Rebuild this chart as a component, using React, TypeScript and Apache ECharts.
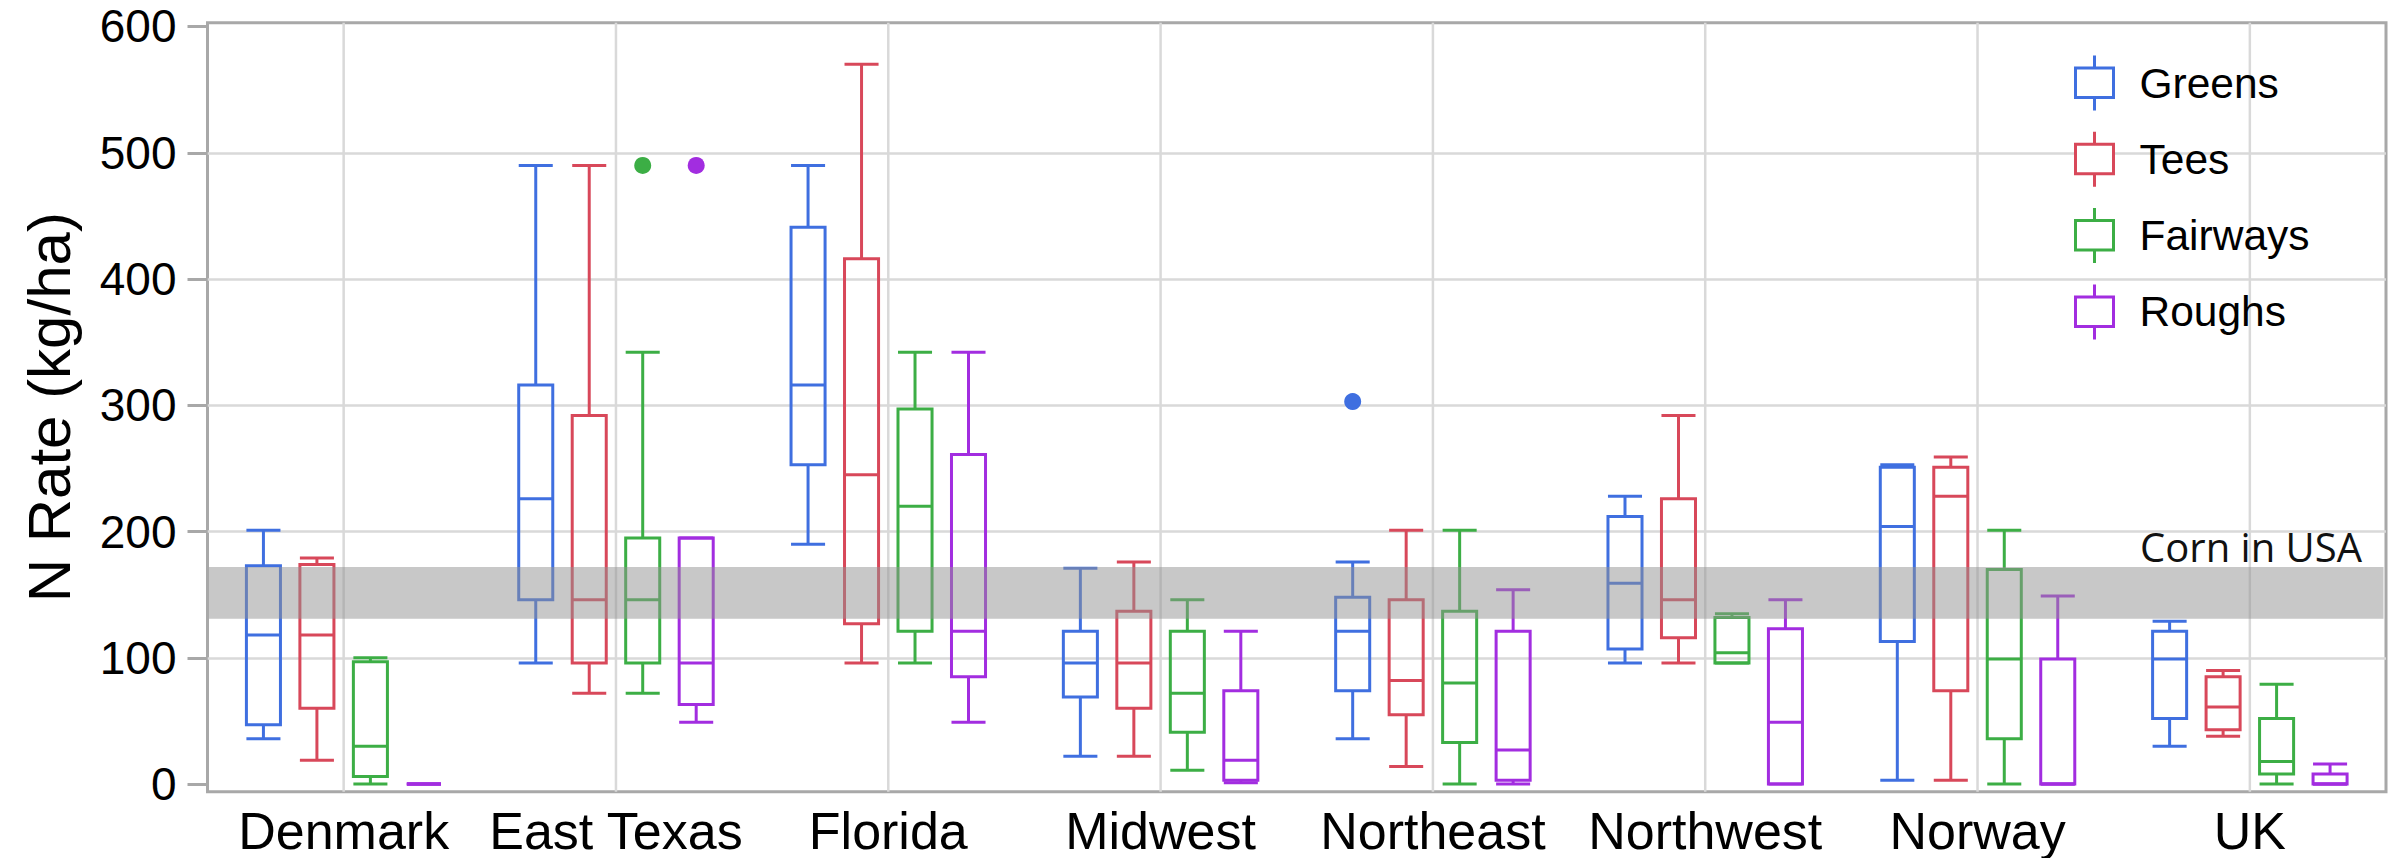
import React, { useEffect, useRef } from "react";
import * as echarts from "echarts";

// Regions on the category axis
const regions = ["Denmark", "East Texas", "Florida", "Midwest", "Northeast", "Northwest", "Norway", "UK"];

// Turf areas, one box per region for each
const groups = ["Greens", "Tees", "Fairways", "Roughs"];
const groupColors = ["#3f6fe0", "#d8485a", "#3cae45", "#a22de0"];

// Box statistics per region: [min, Q1, median, Q3, max] in kg N/ha
const greens = [
  [36, 47, 118, 173, 201],
  [96, 146, 226, 316, 490],
  [190, 253, 316, 441, 490],
  [22, 69, 96, 121, 171],
  [36, 74, 121, 148, 176],
  [96, 107, 159, 212, 228],
  [3, 113, 204, 251, 253],
  [30, 52, 99, 121, 129],
];
const tees = [
  [19, 60, 118, 174, 179],
  [72, 96, 146, 292, 490],
  [96, 127, 245, 416, 570],
  [22, 60, 96, 137, 176],
  [14, 55, 82, 146, 201],
  [96, 116, 146, 226, 292],
  [3, 74, 228, 251, 259],
  [38, 43, 61, 85, 90],
];
const fairways = [
  [0, 6, 30, 97, 100],
  [72, 96, 146, 195, 342],
  [96, 121, 220, 297, 342],
  [11, 41, 72, 121, 146],
  [0, 33, 80, 137, 201],
  [96, 96, 104, 132, 135],
  [0, 36, 99, 170, 201],
  [0, 8, 18, 52, 79],
];
const roughs = [
  [0, 0, 0, 0, 0],
  [49, 63, 96, 195, 195],
  [49, 85, 121, 261, 342],
  [1, 3, 19, 74, 121],
  [0, 3, 27, 121, 154],
  [0, 0, 49, 123, 146],
  [0, 0, 0, 99, 149],
  [0, 0, 0, 8, 16],
];

// Outliers: [region, value]
const greensOutliers: [string, number][] = [["Northeast", 303]];
const teesOutliers: [string, number][] = [];
const fairwaysOutliers: [string, number][] = [["East Texas", 490]];
const roughsOutliers: [string, number][] = [["East Texas", 490]];

// Typical corn N rate range in the USA (kg/ha)
const cornBand = [131, 172];
const cornLabel = "Corn in USA";

const yTicks = [0, 100, 200, 300, 400, 500, 600];

// Layout of the four boxes inside one category band (fractions of the band width)
const SLOT_STEP = 0.1964;
const BOX_FRAC = 0.125;
const BOX_LINE = 3;

const LEGEND_ICON = "path://M19,0L19,12.5M0,12.5L38,12.5L38,42L0,42ZM19,42L19,55";

const boxSets = [greens, tees, fairways, roughs];
const outlierSets = [greensOutliers, teesOutliers, fairwaysOutliers, roughsOutliers];

function slotX(api: any, cat: number, slot: number) {
  const band = api.size([1, 0])[0];
  return api.coord([cat, 0])[0] + (slot - 1.5) * band * SLOT_STEP;
}

function boxRenderer(slot: number, color: string) {
  return (params: any, api: any) => {
    const cat = api.value(0);
    const band = api.size([1, 0])[0];
    const cx = slotX(api, cat, slot);
    const half = (band * BOX_FRAC) / 2;
    const [yMin, yQ1, yMed, yQ3, yMax] = [1, 2, 3, 4, 5].map((d) => api.coord([cat, api.value(d)])[1]);
    const st = { stroke: color, lineWidth: BOX_LINE, fill: "none" };
    return {
      type: "group",
      children: [
        { type: "line", shape: { x1: cx, y1: yMax, x2: cx, y2: yQ3 }, style: st },
        { type: "line", shape: { x1: cx, y1: yQ1, x2: cx, y2: yMin }, style: st },
        { type: "line", shape: { x1: cx - half, y1: yMax, x2: cx + half, y2: yMax }, style: st },
        { type: "line", shape: { x1: cx - half, y1: yMin, x2: cx + half, y2: yMin }, style: st },
        { type: "rect", shape: { x: cx - half, y: yQ3, width: 2 * half, height: yQ1 - yQ3 }, style: st },
        { type: "line", shape: { x1: cx - half, y1: yMed, x2: cx + half, y2: yMed }, style: st },
      ],
    };
  };
}

function outlierRenderer(slot: number, color: string) {
  return (params: any, api: any) => {
    const cat = api.value(0);
    const cx = slotX(api, cat, slot);
    const cy = api.coord([cat, api.value(1)])[1];
    return { type: "circle", shape: { cx, cy, r: 8.5 }, style: { fill: color } };
  };
}

export default function App() {
  const ref = useRef<HTMLDivElement>(null);

  useEffect(() => {
    if (!ref.current) return;
    const chart = echarts.init(ref.current, null, { renderer: "svg" });

    const series: any[] = [];

    // vertical grid lines through each region centre
    series.push({
      type: "custom",
      z: 1,
      silent: true,
      encode: { x: 0, y: 1 },
      data: regions.map((_, i) => [i, 0]),
      renderItem: (params: any, api: any) => {
        const cs = params.coordSys;
        const x = api.coord([api.value(0), 0])[0];
        return {
          type: "line",
          shape: { x1: x, y1: cs.y, x2: x, y2: cs.y + cs.height },
          style: { stroke: "#d9d9d9", lineWidth: 2.5 },
        };
      },
    });

    groups.forEach((g, gi) => {
      series.push({
        type: "custom",
        name: g,
        z: 2,
        encode: { x: 0, y: [1, 2, 3, 4, 5] },
        itemStyle: { color: groupColors[gi] },
        data: boxSets[gi].map((b, i) => [i, ...b]),
        renderItem: boxRenderer(gi, groupColors[gi]),
      });
      if (outlierSets[gi].length) {
        series.push({
          type: "custom",
          name: g,
          z: 3,
          encode: { x: 0, y: 1 },
          itemStyle: { color: groupColors[gi] },
          data: outlierSets[gi].map(([r, v]) => [regions.indexOf(r), v]),
          renderItem: outlierRenderer(gi, groupColors[gi]),
        });
      }
    });

    // translucent reference band with its label
    series.push({
      type: "custom",
      z: 5,
      silent: true,
      encode: { x: 0, y: [1, 2] },
      data: [[0, cornBand[0], cornBand[1]]],
      renderItem: (params: any, api: any) => {
        const cs = params.coordSys;
        const yLo = api.coord([0, api.value(1)])[1];
        const yHi = api.coord([0, api.value(2)])[1];
        return {
          type: "group",
          children: [
            {
              type: "rect",
              shape: { x: cs.x + 1.5, y: yHi, width: cs.width - 4, height: yLo - yHi },
              style: { fill: "rgba(145,145,145,0.5)" },
            },
            {
              type: "text",
              x: cs.x + cs.width - 24,
              y: yHi,
              style: {
                text: cornLabel,
                align: "right",
                verticalAlign: "bottom",
                fontSize: 40,
                fontFamily: "Open Sans",
                fill: "#111",
              },
            },
          ],
        };
      },
    });

    chart.setOption({
      animation: false,
      backgroundColor: "#fff",
      grid: {
        left: 207.5,
        right: 17,
        top: 22.7,
        bottom: 66.3,
        show: true,
        borderColor: "#a8a8a8",
        borderWidth: 3,
        backgroundColor: "transparent",
      },
      legend: {
        orient: "vertical",
        left: 2074,
        top: 54,
        padding: 0,
        itemWidth: 38,
        itemHeight: 55,
        itemGap: 18.3,
        icon: LEGEND_ICON,
        textStyle: { fontSize: 42.5, color: "#000", fontFamily: "Liberation Sans", padding: [0, 0, 0, 21] },
        data: groups.map((g, i) => ({
          name: g,
          icon: LEGEND_ICON,
          itemStyle: { color: "#fff", borderColor: groupColors[i], borderWidth: 3 },
        })),
      },
      xAxis: {
        type: "category",
        data: regions,
        axisLine: { show: false },
        axisTick: { show: false },
        splitLine: { show: false },
        axisLabel: { interval: 0, fontSize: 52, color: "#000", margin: 13, fontFamily: "Liberation Sans" },
      },
      yAxis: {
        type: "value",
        min: -6,
        max: 603,
        name: "N Rate (kg/ha)",
        nameLocation: "middle",
        nameGap: 128,
        nameTextStyle: { fontSize: 60, color: "#000", fontFamily: "Liberation Sans" },
        axisLine: { show: false },
        axisTick: {
          show: true,
          length: 20,
          customValues: yTicks,
          lineStyle: { color: "#a8a8a8", width: 3 },
        },
        axisLabel: {
          customValues: yTicks,
          fontSize: 46,
          color: "#000",
          margin: 31,
          fontFamily: "Liberation Sans",
        },
        splitLine: {
          show: true,
          showMinLine: false,
          showMaxLine: false,
          lineStyle: { color: "#d9d9d9", width: 2.5 },
        },
      },
      series,
    });

    return () => chart.dispose();
  }, []);

  return (
    <div
      ref={ref}
      style={{ position: "absolute", left: 0, top: 0, width: 2403, height: 858 }}
    />
  );
}
